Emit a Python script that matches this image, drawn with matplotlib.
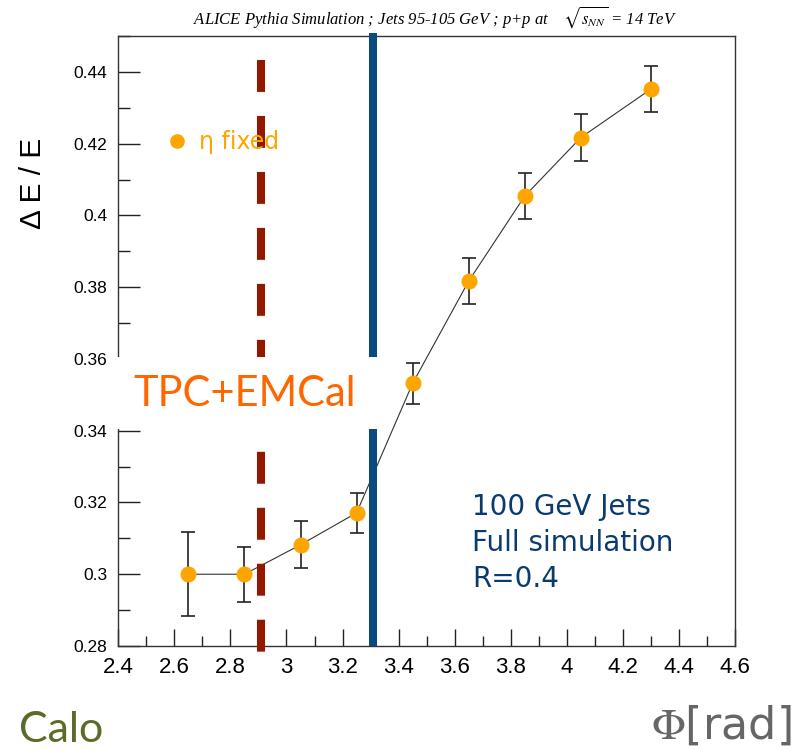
import matplotlib
matplotlib.use("Agg")
import matplotlib.pyplot as plt
from matplotlib.patches import Rectangle
from matplotlib.lines import Line2D
from matplotlib.ticker import MultipleLocator

plt.rcParams['mathtext.fontset'] = 'stix'
plt.rcParams['lines.scale_dashes'] = False

# ---- data ----
phi = [2.65, 2.85, 3.05, 3.25, 3.45, 3.65, 3.85, 4.05, 4.30]
resolution = [0.3000, 0.3000, 0.3082, 0.3171, 0.3532, 0.3817, 0.4054, 0.4217, 0.4352]
resolution_err = [0.0117, 0.0077, 0.0066, 0.0056, 0.0057, 0.0063, 0.0063, 0.0066, 0.0064]
tpc_emcal_boundary = 2.91
emcal_edge = 3.31
x_ticks = [2.4, 2.6, 2.8, 3.0, 3.2, 3.4, 3.6, 3.8, 4.0, 4.2, 4.4, 4.6]
y_ticks = [0.28, 0.30, 0.32, 0.34, 0.36, 0.38, 0.40, 0.42, 0.44]

W, H = 811, 750
def fx(x):
    return x / W
def fy(y):
    return 1 - y / H

fig = plt.figure(figsize=(W / 100, H / 100), dpi=100)
ax = fig.add_axes([fx(118.3), fy(646), (735 - 118.3) / W, (646 - 36) / H])
ax.set_xlim(2.4, 4.6)
ax.set_ylim(0.28, 0.45)

orange = '#FFA500'
# connecting line
ax.plot(phi, resolution, color='#333333', lw=0.8, zorder=2)
# vertical markers
ax.plot([tpc_emcal_boundary, tpc_emcal_boundary], [0.4433, 0.278], color='#921800',
        lw=5.8, linestyle=(0, (23.0, 17.3)), dash_capstyle='butt', clip_on=False, zorder=3)
ax.plot([emcal_edge, emcal_edge], [0.28, 0.4508], color='#0B4A80', lw=5.8,
        solid_capstyle='butt', clip_on=False, zorder=3)
# data
ax.errorbar(phi, resolution, yerr=resolution_err, fmt='o', ms=10.5, mfc=orange, mec=orange,
            ecolor='#222222', elinewidth=1.2, capsize=5, capthick=1.2, zorder=4)

# legend
h = Line2D([], [], marker='o', ls='none', ms=9.5, mfc=orange, mec=orange)
leg = ax.legend([h], ['η fixed'], loc='center left', bbox_to_anchor=(fx(165.6), fy(142)),
                bbox_transform=fig.transFigure, frameon=False, borderpad=0, borderaxespad=0,
                handlelength=0.95, handletextpad=0.45, fontsize=17)
for t in leg.get_texts():
    t.set_color(orange)

# axes styling
ax.xaxis.set_minor_locator(MultipleLocator(0.1))
ax.yaxis.set_minor_locator(MultipleLocator(0.01))
ax.set_xticks(x_ticks)
ax.set_xticklabels([f'{v:g}' for v in x_ticks])
ax.set_yticks(y_ticks)
ax.set_yticklabels([f'{v:g}' for v in y_ticks])
ax.tick_params(axis='both', which='both', direction='in', top=False, right=False, color='#222222', width=1)
ax.tick_params(axis='y', which='major', length=15.6, labelsize=12.5, pad=8)
ax.tick_params(axis='y', which='minor', length=8.4)
ax.tick_params(axis='x', which='major', length=12.5, labelsize=16, pad=8)
ax.tick_params(axis='x', which='minor', length=7.2)
for lab in ax.get_xticklabels() + ax.get_yticklabels():
    lab.set_family('Liberation Sans')
for s in ax.spines.values():
    s.set_color('#333333')
    s.set_linewidth(1.0)

ax.set_ylabel('Δ E / E', family='Liberation Sans', fontsize=21.5)
ax.yaxis.set_label_coords(-0.116, 0.759)

# white box with TPC+EMCal label
ax.add_patch(Rectangle((fx(112), fy(429)), (378 - 112) / W, (429 - 357) / H, transform=fig.transFigure,
                       facecolor='white', edgecolor='none', zorder=10, clip_on=False))
ax.text(fx(245), fy(394), 'TPC+EMCal', transform=fig.transFigure, ha='center', va='center',
        color='#FF6600', family='Lato', fontsize=30, zorder=11)

ax.text(fx(472), fy(493), '100 GeV Jets\nFull simulation\nR=0.4', transform=fig.transFigure,
        ha='left', va='top', color='#0B3A6E', family='DejaVu Sans', fontsize=20, linespacing=1.37,
        zorder=11)

fig.text(fx(435), fy(17), r'ALICE Pythia Simulation ; Jets 95-105 GeV ; p+p at    $\sqrt{s_{NN}}$ = 14 TeV',
         ha='center', va='center', family='Liberation Serif', style='italic', fontsize=12)

fig.text(fx(651), fy(739), r'$\Phi$[rad]', ha='left', va='baseline', color='#666666',
         family='DejaVu Sans', fontsize=32)
fig.text(fx(19), 0.001, 'Calo', ha='left', va='bottom', color='#5B6B2A', family='Lato', fontsize=31)

fig.savefig('out.png', dpi=100)
